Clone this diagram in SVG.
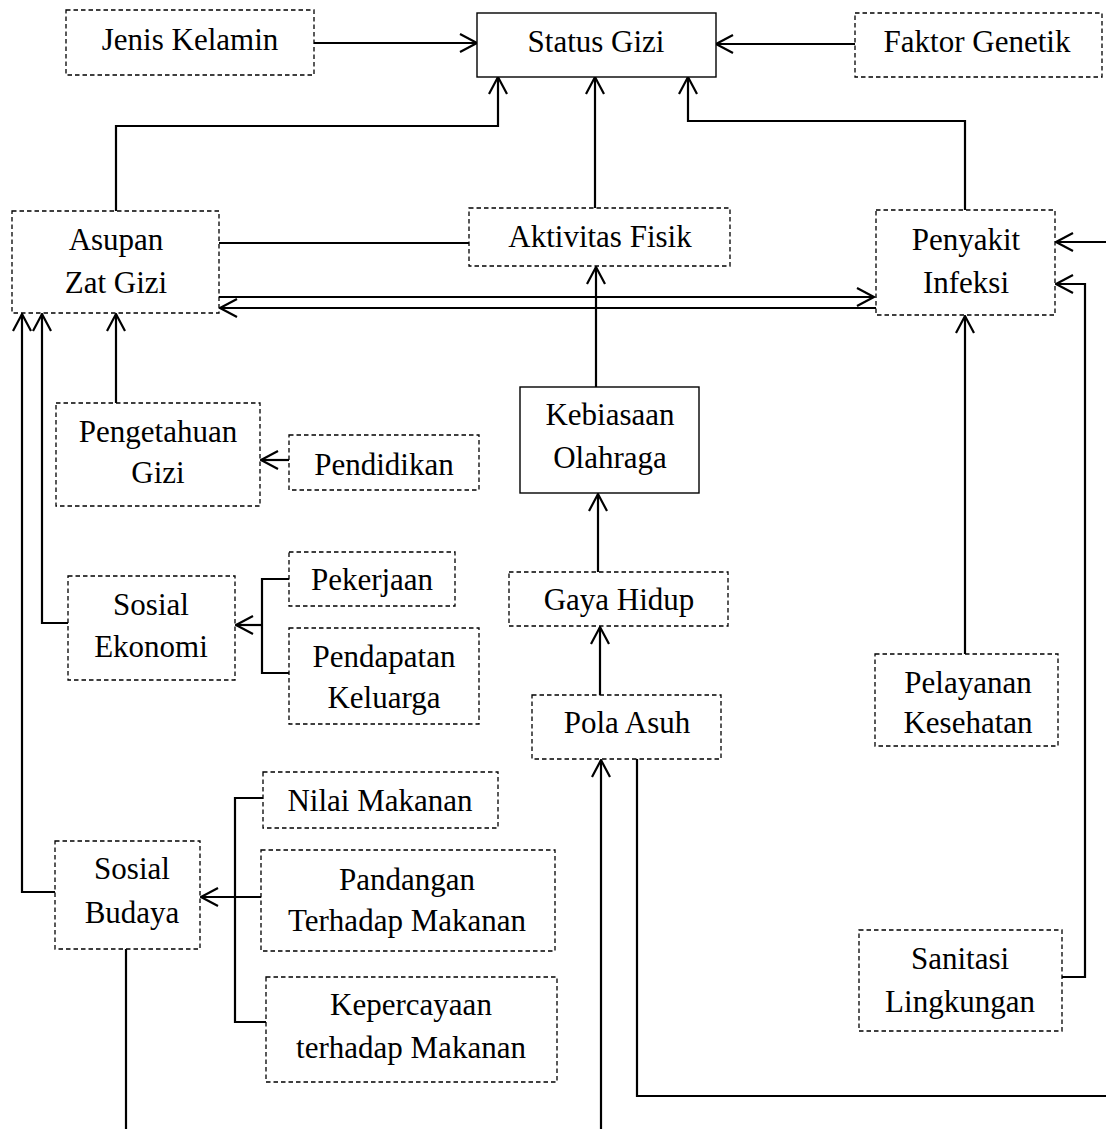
<svg xmlns="http://www.w3.org/2000/svg" width="1106" height="1129" viewBox="0 0 1106 1129">
<style>
.b{fill:#fff;stroke:#000;stroke-width:1.3;stroke-dasharray:4.5,3}
.s{fill:#fff;stroke:#000;stroke-width:1.4}
text{font-family:"Liberation Serif","Times New Roman",serif;font-size:31px;fill:#000;text-anchor:middle}
.c path{fill:none;stroke:#000;stroke-width:2.2}
</style>
<defs>
<marker id="arr" markerUnits="userSpaceOnUse" markerWidth="24" markerHeight="24" viewBox="-20 -12 24 24" refX="0" refY="0" orient="auto">
<path d="M-17,-9 L0,0 L-17,9" fill="none" stroke="#000" stroke-width="2.2"/>
</marker>
</defs>
<rect width="1106" height="1129" fill="#fff"/>
<g class="c" id="connectors">
<path d="M314 43 H477" marker-end="url(#arr)"/>
<path d="M855 44 H716" marker-end="url(#arr)"/>
<path d="M116 211 V126 H498 V77" marker-end="url(#arr)"/>
<path d="M595 208 V77" marker-end="url(#arr)"/>
<path d="M965 210 V121 H688 V77" marker-end="url(#arr)"/>
<path d="M219 243 H469"/>
<path d="M219 297 H874" marker-end="url(#arr)"/>
<path d="M876 308 H220" marker-end="url(#arr)"/>
<path d="M596 387 V267" marker-end="url(#arr)"/>
<path d="M116 403 V314" marker-end="url(#arr)"/>
<path d="M68 623 H42 V314" marker-end="url(#arr)"/>
<path d="M55 892 H22 V314" marker-end="url(#arr)"/>
<path d="M289 460 H261" marker-end="url(#arr)"/>
<path d="M289 579 H262 V673 H289"/>
<path d="M262 625 H236" marker-end="url(#arr)"/>
<path d="M598 572 V494" marker-end="url(#arr)"/>
<path d="M600 695 V627" marker-end="url(#arr)"/>
<path d="M965 654 V316" marker-end="url(#arr)"/>
<path d="M1106 242 H1056" marker-end="url(#arr)"/>
<path d="M1062 977 H1085 V284 H1056" marker-end="url(#arr)"/>
<path d="M263 798 H235 V1022 H266"/>
<path d="M261 897 H201" marker-end="url(#arr)"/>
<path d="M126 949 V1129"/>
<path d="M601 1129 V760" marker-end="url(#arr)"/>
<path d="M637 759 V1096 H1106"/>
</g>
<g id="jenis"><rect class="b" x="66" y="10" width="248" height="65"/><text x="190" y="50">Jenis Kelamin</text></g>
<g id="status"><rect class="s" x="477" y="13" width="239" height="64"/><text x="596" y="52">Status Gizi</text></g>
<g id="faktor"><rect class="b" x="855" y="13" width="247" height="64"/><text x="977" y="52">Faktor Genetik</text></g>
<g id="asupan"><rect class="b" x="12" y="211" width="207" height="102"/><text x="116" y="250">Asupan</text><text x="116" y="293">Zat Gizi</text></g>
<g id="aktivitas"><rect class="b" x="469" y="208" width="261" height="58"/><text x="600" y="247">Aktivitas Fisik</text></g>
<g id="penyakit"><rect class="b" x="876" y="210" width="179" height="105"/><text x="966" y="250">Penyakit</text><text x="966" y="293">Infeksi</text></g>
<g id="pengetahuan"><rect class="b" x="56" y="403" width="204" height="103"/><text x="158" y="442">Pengetahuan</text><text x="158" y="483">Gizi</text></g>
<g id="pendidikan"><rect class="b" x="289" y="435" width="190" height="55"/><text x="384" y="475">Pendidikan</text></g>
<g id="kebiasaan"><rect class="s" x="520" y="387" width="179" height="106"/><text x="610" y="425">Kebiasaan</text><text x="610" y="468">Olahraga</text></g>
<g id="sosialekonomi"><rect class="b" x="68" y="576" width="167" height="104"/><text x="151" y="615">Sosial</text><text x="151" y="657">Ekonomi</text></g>
<g id="pekerjaan"><rect class="b" x="289" y="552" width="166" height="54"/><text x="372" y="590">Pekerjaan</text></g>
<g id="pendapatan"><rect class="b" x="289" y="628" width="190" height="96"/><text x="384" y="667">Pendapatan</text><text x="384" y="708">Keluarga</text></g>
<g id="gayahidup"><rect class="b" x="509" y="572" width="219" height="54"/><text x="619" y="610">Gaya Hidup</text></g>
<g id="polaasuh"><rect class="b" x="532" y="695" width="189" height="64"/><text x="627" y="733">Pola Asuh</text></g>
<g id="pelayanan"><rect class="b" x="875" y="654" width="183" height="92"/><text x="968" y="693">Pelayanan</text><text x="968" y="733">Kesehatan</text></g>
<g id="nilai"><rect class="b" x="263" y="772" width="235" height="56"/><text x="380" y="811">Nilai Makanan</text></g>
<g id="sosialbudaya"><rect class="b" x="55" y="841" width="145" height="108"/><text x="132" y="879">Sosial</text><text x="132" y="923">Budaya</text></g>
<g id="pandangan"><rect class="b" x="261" y="850" width="294" height="101"/><text x="407" y="890">Pandangan</text><text x="407" y="931">Terhadap Makanan</text></g>
<g id="kepercayaan"><rect class="b" x="266" y="977" width="291" height="105"/><text x="411" y="1015">Kepercayaan</text><text x="411" y="1058">terhadap Makanan</text></g>
<g id="sanitasi"><rect class="b" x="859" y="930" width="203" height="101"/><text x="960" y="969">Sanitasi</text><text x="960" y="1012">Lingkungan</text></g>
</svg>
